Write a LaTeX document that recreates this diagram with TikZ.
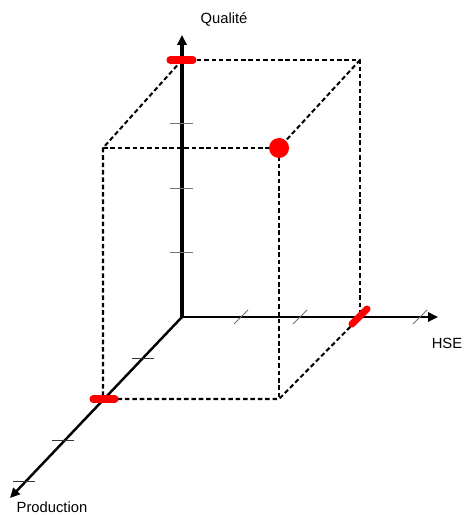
\documentclass[tikz,border=0pt]{standalone}
\usepackage{fontspec}
\setmainfont{Liberation Sans}
\usetikzlibrary{arrows.meta}

\begin{document}
\begin{tikzpicture}[
    x=0.2mm, y=-0.2mm,
    >={Triangle[length=5.6pt,width=5.2pt]},
    axis/.style={->, line width=1.3pt},
    edge/.style={line width=1.15pt, dash pattern=on 2.6pt off 1.6pt},
    tck/.style={line width=0.55pt, black!55},
    redbar/.style={red, line width=4pt, line cap=round},
    lbl/.style={font=\fontsize{8.4}{10}\selectfont}
]
    \useasboundingbox (0,0) rectangle (464,515);

    % origin and axis ends
    \coordinate (O)    at (182,317);
    \coordinate (Qtip) at (182,35);
    \coordinate (Htip) at (438,317);
    \coordinate (Ptip) at (10,498);

    % corners of the box
    \coordinate (Qmax) at (182,60);
    \coordinate (Hmax) at (360,317);
    \coordinate (Pmax) at (103,399);
    \coordinate (BTR)  at (360,60);
    \coordinate (FTL)  at (103,148);
    \coordinate (FTR)  at (279,148);
    \coordinate (FBR)  at (279,399);

    % dashed edges
    \draw[edge] (Qmax) -- (BTR) -- (Hmax);
    \draw[edge] (Qmax) -- (FTL) -- (Pmax) -- (FBR) -- (Hmax);
    \draw[edge] (FTL) -- (FTR) -- (FBR);
    \draw[edge] (BTR) -- (FTR);

    % axes
    \draw[axis, line width=1.9pt] (O) -- (Qtip);
    \draw[axis] (O) -- (Htip);
    \draw[axis, line width=1.4pt] (O) -- (Ptip);

    % ticks
    \foreach \y in {123,188,252}
        \draw[tck] (170,\y) -- (193,\y);
    \foreach \x in {241,300,420}
        \draw[tck] (\x-7,324) -- (\x+7,310);
    \foreach \x/\y in {143/358,63/440,24/481}
        \draw[tck, black!80] (\x-11,\y) -- (\x+11,\y);

    % red marks
    \draw[redbar] (170,60) -- (193,60);
    \draw[redbar] (93,399) -- (115,399);
    \draw[redbar] (352,324) -- (367,309);
    \fill[red] (FTR) circle (10);

    % labels
    \node[lbl] (qual) at (224,19)  {Qualité};
    \node[lbl] (hse)  at (447,343) {HSE};
    \node[lbl] (prod) at (52,507)  {Production};
\end{tikzpicture}
\end{document}
